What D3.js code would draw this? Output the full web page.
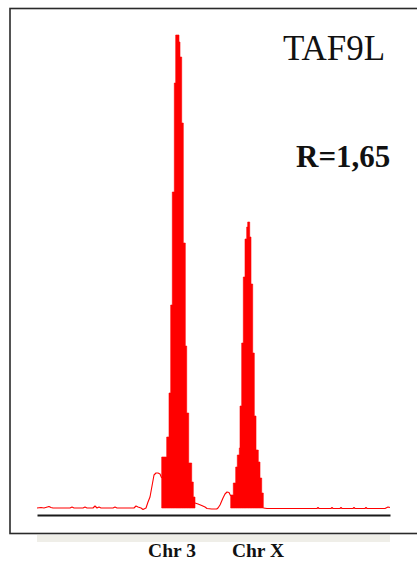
<!DOCTYPE html>
<html>
<head>
<meta charset="utf-8">
<script src="https://cdn.jsdelivr.net/npm/d3@7"></script>
<style>
  html, body { margin: 0; padding: 0; background: #fff; }
  svg { display: block; }
  .serif { font-family: "Liberation Serif", "Times New Roman", Times, "DejaVu Serif", "Noto Serif", serif; }
</style>
</head>
<body>
<svg id="chart" width="417" height="561"></svg>
<script>
// ---- data (x = scan position, value = fluorescence intensity) ----
const geneName = "TAF9L";
const ratioLabel = "R=1,65";
const categories = ["Chr 3", "Chr X"];
const categoryPositions = [135, 221];

// peak bins: [bin start, intensity]; last entry closes the peak
const chr3Peak = [
  [124.7, 510], [129.7, 710], [132, 1150], [133.7, 2030], [135.3, 3160],
  [137.3, 4250], [138.7, 4730], [142, 4660], [143, 4510], [144.7, 3850],
  [146.3, 2650], [148.3, 1620], [149.7, 950], [151.7, 450], [154.7, 260],
  [156.3, 110], [158, 0]
];
const chrXPeak = [
  [193.7, 130], [196.3, 250], [198.7, 410], [200.3, 530], [202.3, 600],
  [203, 1020], [204.7, 1650], [206.3, 2310], [208, 2690], [209.7, 2810],
  [210.7, 2860], [212.7, 2710], [214, 2240], [215.7, 1550], [217.3, 920],
  [219, 580], [221.3, 460], [223, 300], [224.7, 150], [226.3, 0]
];

// background trace outside the filled peaks
const traceLeft = [
  [0, 0], [4, 5], [7, 0], [12, 15], [14, 5], [16, 0], [33, 0], [35, 10], [37, 0],
  [46, 0], [48, 10], [50, 0], [56, 0], [58, 20], [60, 0], [62, 10], [64, 0],
  [76, 0], [78, 10], [80, 0], [97, 0], [99, 20], [101, 10], [104, 0], [106, -15],
  [109, 0], [111, 60], [113, 110], [115, 220], [117, 330], [119, 350], [121, 350],
  [123, 340], [124.7, 300]
];
const traceMid = [
  [158, 50], [161, 40], [164.7, 25], [168, 10], [170, -5], [174.7, -10],
  [179.7, -10], [181, 0], [183, 30], [186, 100], [188, 140], [190, 160],
  [192, 155], [193.7, 120]
];
const traceRight = [
  [226.3, 0], [230, -5], [280, -5], [281, 5], [282, -5], [294, -5], [295, 5],
  [296, -5], [303, -5], [304, 5], [305, -5], [316, -5], [317, 5], [318, -5],
  [328, -5], [329, 5], [330, -5], [348, -5], [351, 10], [353, 5]
];

// ---- layout ----
const svg = d3.select("#chart");
const plot = { left: 37, right: 390, top: 34, base: 508 };

const x = d3.scaleLinear().domain([0, 353]).range([plot.left, plot.right]);
const y = d3.scaleLinear().domain([0, 4740]).range([plot.base, plot.top]);

const red = "#ff0000";

// frame
svg.append("rect")
  .attr("x", 10).attr("y", 8.5)
  .attr("width", 420).attr("height", 525)
  .attr("fill", "none").attr("stroke", "#2a2a2a").attr("stroke-width", 1.6);

// light band under the frame
svg.append("rect")
  .attr("x", plot.left).attr("y", 535)
  .attr("width", plot.right - plot.left).attr("height", 7)
  .attr("fill", "#efeee8");

// trace
const line = d3.line().x(d => x(d[0])).y(d => y(d[1]));
[traceLeft, traceMid, traceRight].forEach(tr => {
  svg.append("path")
    .attr("d", line(tr))
    .attr("fill", "none")
    .attr("stroke", red)
    .attr("stroke-width", 1.1)
    .attr("stroke-linejoin", "round");
});

// filled peaks
const area = d3.area()
  .curve(d3.curveStepAfter)
  .x(d => x(d[0]))
  .y0(y(0))
  .y1(d => y(d[1]));
[chr3Peak, chrXPeak].forEach(pk => {
  svg.append("path")
    .attr("d", area(pk))
    .attr("fill", red)
    .attr("stroke", red)
    .attr("stroke-width", 0.6);
});

// axis line
const xAxis = d3.axisBottom(x).tickValues([]).tickSizeOuter(0);
const axisG = svg.append("g").attr("transform", "translate(0,515)").call(xAxis);
axisG.select(".domain").attr("stroke", "#1a1a1a").attr("stroke-width", 2);

// category labels
svg.selectAll("text.cat")
  .data(categories)
  .enter().append("text")
  .attr("class", "cat serif")
  .attr("x", (d, i) => x(categoryPositions[i]))
  .attr("y", 557)
  .attr("text-anchor", "middle")
  .style("font-weight", "bold")
  .style("font-size", "19.5px")
  .attr("fill", "#111")
  .text(d => d);

// gene name
svg.append("text")
  .attr("class", "serif")
  .attr("x", 283).attr("y", 60)
  .style("font-size", "35px")
  .attr("fill", "#111")
  .text(geneName);

// ratio
svg.append("text")
  .attr("class", "serif")
  .attr("x", 296).attr("y", 167)
  .style("font-weight", "bold")
  .style("font-size", "31px")
  .attr("fill", "#111")
  .text(ratioLabel);
</script>
</body>
</html>
